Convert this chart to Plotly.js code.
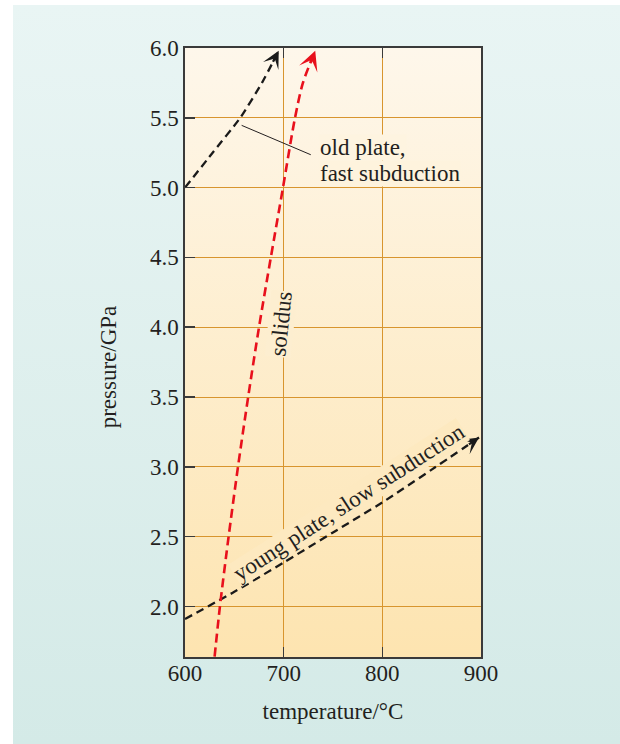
<!DOCTYPE html>
<html>
<head>
<meta charset="utf-8">
<script src="https://cdn.plot.ly/plotly-3.0.1.min.js"></script>
<style>
  html, body { margin: 0; padding: 0; background: #ffffff; }
  #wrap { position: relative; width: 620px; height: 744px; overflow: hidden; }
  #panel { position: absolute; left: 13px; top: 5px; right: 0; bottom: 0;
           background: linear-gradient(to bottom, #e9f5f4, #d4eae7); }
  #chart { position: absolute; left: 0; top: 0; width: 620px; height: 744px; }
</style>
</head>
<body>
<div id="wrap">
  <div id="panel"></div>
  <div id="chart"></div>
</div>
<script>
// Pressure–temperature paths of subducting slabs and the solidus
const xTicks = [600, 700, 800, 900];
const yTicks = [2.0, 2.5, 3.0, 3.5, 4.0, 4.5, 5.0, 5.5, 6.0];

// young plate, slow subduction (°C, GPa)
const youngT = [600, 650, 700, 750, 800, 850, 898];
const youngP = [1.91, 2.105, 2.315, 2.53, 2.745, 2.98, 3.21];

// old plate, fast subduction
const oldT = [600, 628, 656, 678, 695];
const oldP = [5.0, 5.25, 5.5, 5.75, 5.98];

// solidus
const solT = [630, 635.4, 644.2, 653.7, 664, 675, 687, 699.3, 711.5, 719.5, 732];
const solP = [1.64, 2.0, 2.5, 3.0, 3.5, 4.0, 4.5, 5.0, 5.5, 5.75, 5.98];

// label anchor points (°C, GPa)
const solidusLabel = {T: 697.3, P: 4.02};
const youngLabel = {T: 766, P: 2.745};
const oldLabel = {T: 735.8, P1: 5.29, P2: 5.10};
const oldLeader = {T0: 657.4, P0: 5.446, T1: 729, P1: 5.231};

const serif = 'Liberation Serif, Times New Roman, serif';
const ink = '#231f20';
const fs = 23;

const xRange = [600, 900];
const yRange = [1.638, 6.0];
const margin = {l: 185, r: 139, t: 48, b: 87};
const W = 620, H = 744;
const pxPerX = (W - margin.l - margin.r) / (xRange[1] - xRange[0]);
const pxPerY = (H - margin.t - margin.b) / (yRange[1] - yRange[0]);

function path(x, y, color, width, dash, smoothing) {
  return {
    type: 'scatter', mode: 'lines', x: x, y: y,
    line: {color: color, width: width, dash: dash, shape: 'spline', smoothing: smoothing},
    hoverinfo: 'skip', showlegend: false
  };
}

const traces = [
  path(youngT, youngP, '#1a1a1a', 2.3, '8px,5px', 0.5),
  path(oldT, oldP, '#1a1a1a', 2.3, '8px,5px', 0.5),
  path(solT, solP, '#e8101c', 2.6, '9px,5px', 0.8)
];

// arrow heads at the end of each path, pointing along its last segment;
// the arrow shaft is kept about 14px long so it hides under the head
function head(x, y, color, width) {
  const n = x.length;
  const dx = x[n - 2] - x[n - 1], dy = y[n - 2] - y[n - 1];
  const segPx = Math.hypot(dx * pxPerX, dy * pxPerY);
  const f = 14 / segPx;
  return {
    x: x[n - 1], y: y[n - 1], xref: 'x', yref: 'y',
    ax: x[n - 1] + dx * f, ay: y[n - 1] + dy * f,
    axref: 'x', ayref: 'y',
    showarrow: true, arrowhead: 3, arrowsize: 1.25, arrowwidth: width,
    arrowcolor: color, standoff: 0, startstandoff: 0, text: '',
    font: {size: 1}
  };
}

const gradSvg = "<svg xmlns='http://www.w3.org/2000/svg' width='10' height='100' preserveAspectRatio='none'>" +
  "<defs><linearGradient id='g' x1='0' y1='0' x2='0' y2='1'>" +
  "<stop offset='0' stop-color='#fef7eb'/><stop offset='1' stop-color='#fde4b0'/>" +
  "</linearGradient></defs><rect width='10' height='100' fill='url(#g)'/></svg>";

const layout = {
  width: W, height: H,
  margin: margin,
  paper_bgcolor: 'rgba(0,0,0,0)',
  plot_bgcolor: 'rgba(0,0,0,0)',
  font: {family: serif, size: fs, color: ink},
  showlegend: false,
  images: [{
    source: 'data:image/svg+xml;charset=utf-8,' + encodeURIComponent(gradSvg),
    xref: 'paper', yref: 'paper', x: 0, y: 1, sizex: 1, sizey: 1,
    xanchor: 'left', yanchor: 'top', sizing: 'stretch', layer: 'below'
  }],
  xaxis: {
    range: xRange, tickvals: xTicks, ticktext: xTicks.map(String),
    showgrid: true, gridcolor: '#d8952e', gridwidth: 1,
    zeroline: false, showline: true, linecolor: '#3a3a3a', linewidth: 1.6,
    mirror: 'ticks', ticks: 'inside', ticklen: 10, tickwidth: 1.6, tickcolor: '#3a3a3a',
    ticklabelstandoff: -5,
    tickfont: {family: serif, size: fs, color: ink},
    title: {text: 'temperature/°C', font: {family: serif, size: fs, color: ink}, standoff: 17}
  },
  yaxis: {
    range: yRange, tickvals: yTicks, ticktext: yTicks.map(v => v.toFixed(1)),
    showgrid: true, gridcolor: '#d8952e', gridwidth: 1,
    zeroline: false, showline: true, linecolor: '#3a3a3a', linewidth: 1.6,
    mirror: true, ticks: 'inside', ticklen: 10, tickwidth: 1.6, tickcolor: '#3a3a3a',
    tickfont: {family: serif, size: fs, color: ink}
  },
  annotations: [
    head(youngT, youngP, '#1a1a1a', 2.3),
    head(oldT, oldP, '#1a1a1a', 2.3),
    head(solT, solP, '#e8101c', 2.6),
    {
      // y-axis title
      x: -0.258, y: 0.4767, xref: 'paper', yref: 'paper',
      xanchor: 'center', yanchor: 'middle',
      text: 'pressure/GPa', textangle: -90, showarrow: false,
      font: {family: serif, size: fs, color: ink}
    },
    {
      x: oldLeader.T0, y: oldLeader.P0, ax: oldLeader.T1, ay: oldLeader.P1,
      xref: 'x', yref: 'y', axref: 'x', ayref: 'y',
      showarrow: true, arrowhead: 0, arrowwidth: 1, arrowcolor: ink,
      standoff: 0, startstandoff: 0, text: '', font: {size: 1}
    },
    {
      x: oldLabel.T, y: oldLabel.P1, xref: 'x', yref: 'y', xanchor: 'left', yanchor: 'middle',
      text: 'old plate,', showarrow: false, bgcolor: '#fef4e0', borderpad: 0,
      font: {family: serif, size: fs, color: ink}
    },
    {
      x: oldLabel.T, y: oldLabel.P2, xref: 'x', yref: 'y', xanchor: 'left', yanchor: 'middle',
      text: 'fast subduction', showarrow: false, bgcolor: '#fef3dd', borderpad: 0,
      font: {family: serif, size: fs, color: ink}
    },
    {
      x: solidusLabel.T, y: solidusLabel.P, xref: 'x', yref: 'y',
      text: 'solidus', textangle: -84, showarrow: false, bgcolor: '#fdeed0', borderpad: 0,
      font: {family: serif, size: fs, color: ink}
    },
    {
      x: youngLabel.T, y: youngLabel.P, xref: 'x', yref: 'y',
      text: 'young plate, slow subduction', textangle: -32.8, showarrow: false,
      bgcolor: '#fde9c0', borderpad: 0,
      font: {family: serif, size: fs, color: ink}
    }
  ]
};

Plotly.newPlot('chart', traces, layout, {staticPlot: true, displayModeBar: false});
</script>
</body>
</html>
